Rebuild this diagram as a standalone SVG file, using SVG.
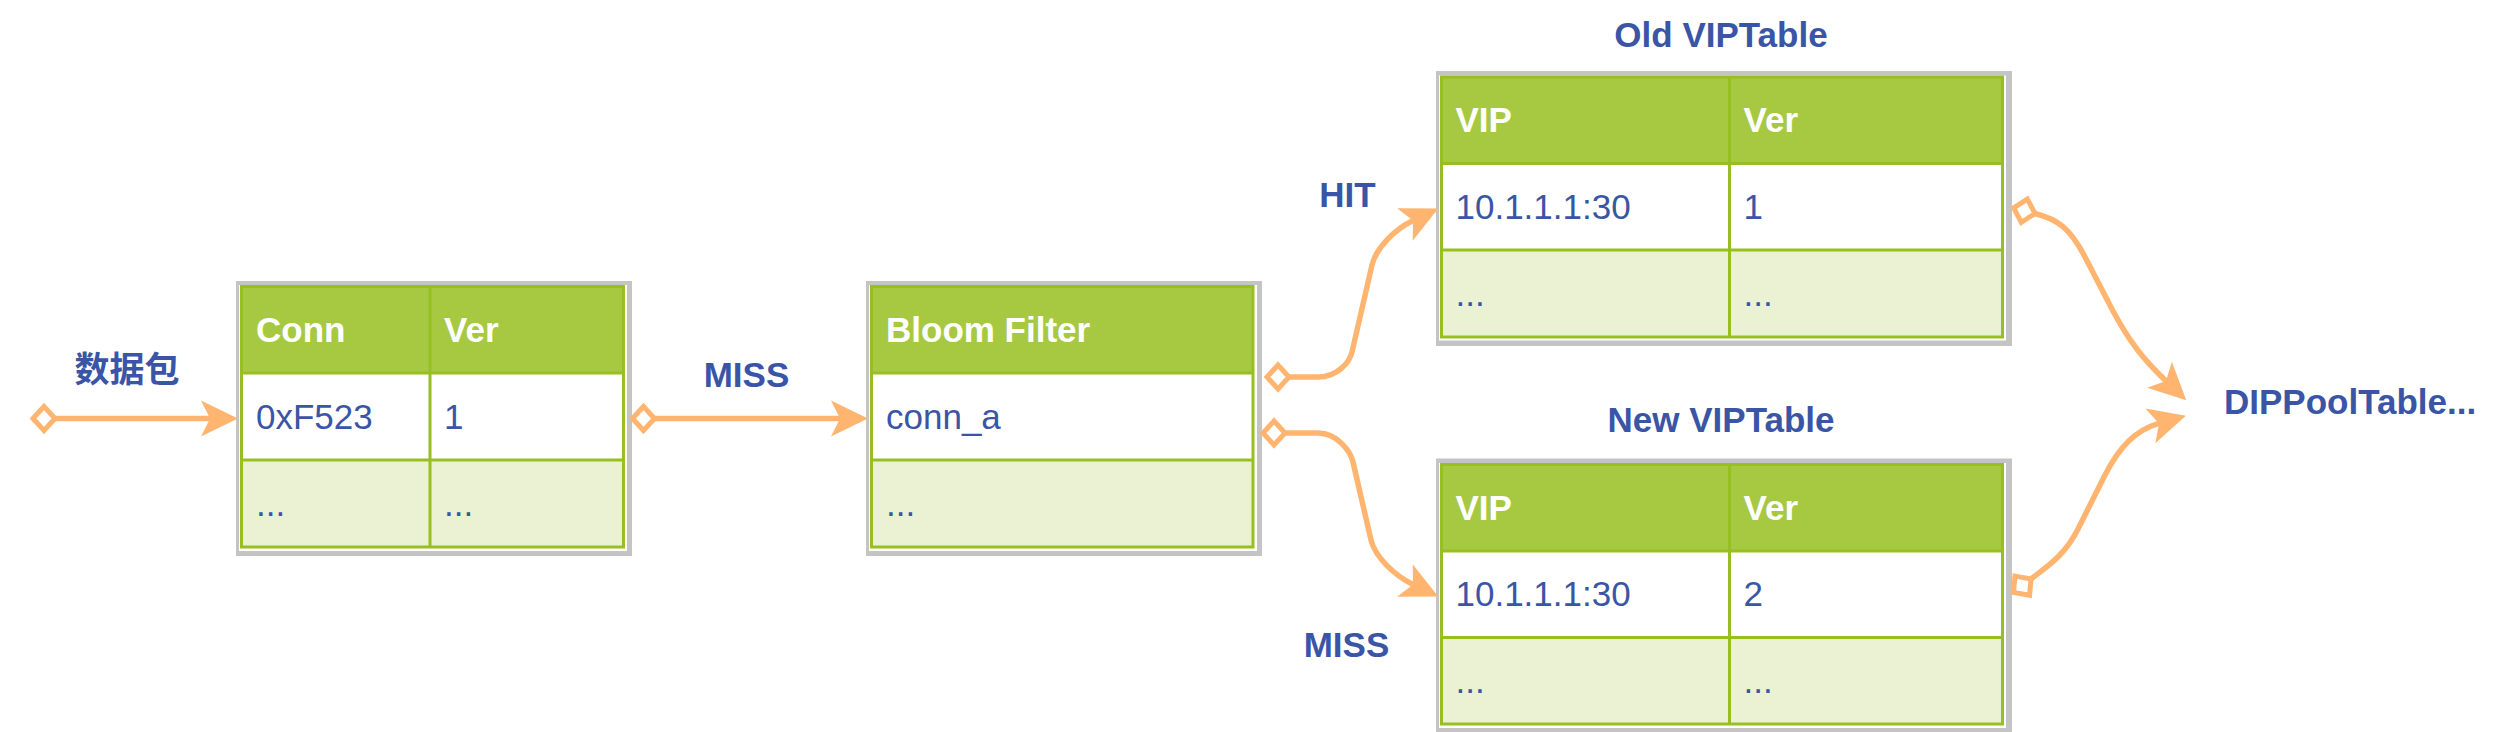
<svg xmlns="http://www.w3.org/2000/svg" width="2517" height="732" viewBox="0 0 2517 732">
<style>
.frame{fill:#c4c4c4}
.pad{fill:#ffffff}
.hdr{fill:#A7C942}
.r1{fill:#ffffff}
.r2{fill:#EAF2D3}
.grid{fill:none;stroke:#98BF21;stroke-width:3}
.ht{font-family:"Liberation Sans",Arial,sans-serif;font-weight:bold;font-size:35px;fill:#ffffff}
.ct{font-family:"Liberation Sans",Arial,sans-serif;font-size:35px;fill:#3a55a5}
.lbl{font-family:"Liberation Sans",Arial,"Noto Sans CJK SC",sans-serif;font-weight:bold;font-size:35px;fill:#3a55a5}
.edge{fill:none;stroke:#FFB570;stroke-width:5.5;marker-start:url(#dia);marker-end:url(#arr)}
</style>
<defs>
<marker id="dia" markerUnits="userSpaceOnUse" viewBox="-30 -20 40 40" refX="0" refY="0" markerWidth="40" markerHeight="40" orient="auto">
<path d="M0 0 L-11 -12 L-22 0 L-11 12 Z" fill="#ffffff" stroke="#FFB570" stroke-width="5"/>
</marker>
<marker id="arr" markerUnits="userSpaceOnUse" viewBox="-15 -25 50 50" refX="0" refY="0" markerWidth="50" markerHeight="50" orient="auto">
<path d="M28 0 L-9 -18 L0 0 L-9 18 Z" fill="#FFB570"/>
</marker>
</defs>
<rect width="2517" height="732" fill="#ffffff"/>

<g id="conn-table">
<rect class="frame" x="236" y="281" width="396" height="275"/>
<rect class="pad" x="239" y="285" width="388" height="266"/>
<rect class="hdr" x="241.5" y="286.5" width="382" height="86.5"/>
<rect class="r1" x="241.5" y="373" width="382" height="87"/>
<rect class="r2" x="241.5" y="460" width="382" height="87"/>
<path class="grid" d="M241.5 286.5 H623.5 V547 H241.5 Z M241.5 373 H623.5 M241.5 460 H623.5 M430 286.5 V547"/>
<text class="ht" x="256" y="342">Conn</text>
<text class="ht" x="444" y="342">Ver</text>
<text class="ct" x="256" y="428.5">0xF523</text>
<text class="ct" x="444" y="428.5">1</text>
<text class="ct" x="256" y="515.5">...</text>
<text class="ct" x="444" y="515.5">...</text>
</g>

<g id="bloom-filter">
<rect class="frame" x="866" y="281" width="396" height="275"/>
<rect class="pad" x="869" y="285" width="388" height="266"/>
<rect class="hdr" x="871.5" y="286.5" width="381.5" height="86.5"/>
<rect class="r1" x="871.5" y="373" width="381.5" height="87"/>
<rect class="r2" x="871.5" y="460" width="381.5" height="87"/>
<path class="grid" d="M871.5 286.5 H1253 V547 H871.5 Z M871.5 373 H1253 M871.5 460 H1253"/>
<text class="ht" x="886" y="342">Bloom Filter</text>
<text class="ct" x="886" y="428.5">conn_a</text>
<text class="ct" x="886" y="515.5">...</text>
</g>

<g id="old-vip-table">
<text class="lbl" x="1721" y="47" text-anchor="middle">Old VIPTable</text>
<rect class="frame" x="1436" y="71" width="576" height="275"/>
<rect class="pad" x="1439" y="75.5" width="567" height="265"/>
<rect class="hdr" x="1441.5" y="77" width="561" height="86.5"/>
<rect class="r1" x="1441.5" y="163.5" width="561" height="86.5"/>
<rect class="r2" x="1441.5" y="250" width="561" height="87"/>
<path class="grid" d="M1441.5 77 H2002.5 V337 H1441.5 Z M1441.5 163.5 H2002.5 M1441.5 250 H2002.5 M1729.5 77 V337"/>
<text class="ht" x="1455.5" y="132">VIP</text>
<text class="ht" x="1743.5" y="132">Ver</text>
<text class="ct" x="1455.5" y="218.5">10.1.1.1:30</text>
<text class="ct" x="1743.5" y="218.5">1</text>
<text class="ct" x="1455.5" y="305.5">...</text>
<text class="ct" x="1743.5" y="305.5">...</text>
</g>

<g id="new-vip-table">
<text class="lbl" x="1721" y="432" text-anchor="middle">New VIPTable</text>
<rect class="frame" x="1436" y="458.5" width="576" height="275"/>
<rect class="pad" x="1439" y="463" width="567" height="265"/>
<rect class="hdr" x="1441.5" y="464.5" width="561" height="86.5"/>
<rect class="r1" x="1441.5" y="551" width="561" height="86.5"/>
<rect class="r2" x="1441.5" y="637.5" width="561" height="86.5"/>
<path class="grid" d="M1441.5 464.5 H2002.5 V724 H1441.5 Z M1441.5 551 H2002.5 M1441.5 637.5 H2002.5 M1729.5 464.5 V724"/>
<text class="ht" x="1455.5" y="519.5">VIP</text>
<text class="ht" x="1743.5" y="519.5">Ver</text>
<text class="ct" x="1455.5" y="606">10.1.1.1:30</text>
<text class="ct" x="1743.5" y="606">2</text>
<text class="ct" x="1455.5" y="693">...</text>
<text class="ct" x="1743.5" y="693">...</text>
</g>

<g id="dippool">
<text class="lbl" x="2224" y="413.5">DIPPoolTable...</text>
</g>

<g id="connectors">
<path class="edge" d="M55 418.5 H210"/>
<path class="edge" d="M654.5 418.5 H840"/>
<path class="edge" d="M1289 377 L1318 377 C1338 377 1349.8 361.7 1352 352 L1372 265 C1376 248 1395 229.3 1413 220.6"/>
<path class="edge" d="M1285 433 L1318 433 C1338 433 1350.7 452.3 1353 462 L1371 540 C1375 557 1395 575.7 1413 584.4"/>
<path class="edge" d="M2035 213.5 C2058 219.5 2070 228 2085 257 L2113 311 C2130 343 2145 361 2166 381"/>
<path class="edge" d="M2031 579 C2048 566 2065 555 2078 529 L2105 475 C2120 446 2136 430 2159 423.4"/>
<text class="lbl" x="127" y="382" text-anchor="middle">数据包</text>
<text class="lbl" x="746.5" y="387" text-anchor="middle">MISS</text>
<text class="lbl" x="1347.5" y="207" text-anchor="middle">HIT</text>
<text class="lbl" x="1346.5" y="657" text-anchor="middle">MISS</text>
</g>
</svg>
